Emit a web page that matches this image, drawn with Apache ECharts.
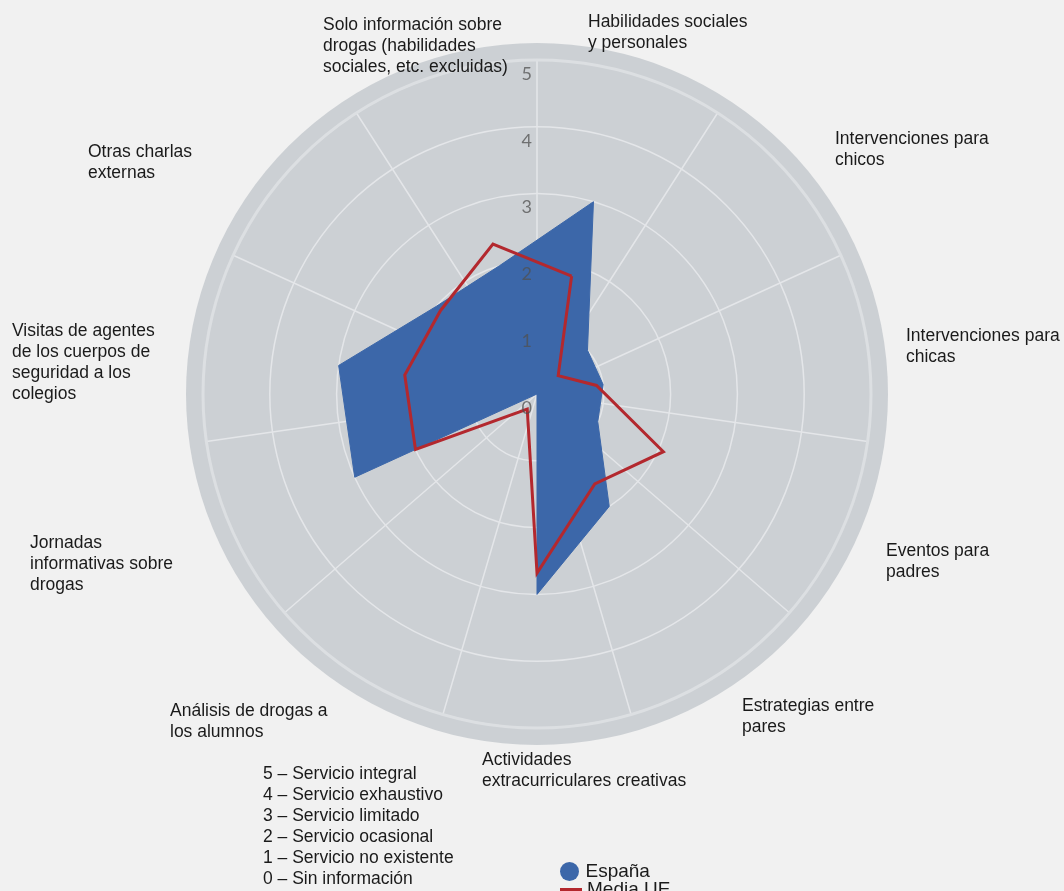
<!DOCTYPE html>
<html>
<head>
<meta charset="utf-8">
<script src="https://cdn.jsdelivr.net/npm/echarts@6/dist/echarts.min.js"></script>
<style>
html,body{margin:0;padding:0;background:#f1f1f1;}
#chart{width:1064px;height:891px;}
</style>
</head>
<body>
<div id="chart"></div>
<script>
// ---- data (clockwise from the top) ----
const categories = [
  'Habilidades sociales\ny personales',
  'Intervenciones para\nchicos',
  'Intervenciones para\nchicas',
  'Eventos para\npadres',
  'Estrategias entre\npares',
  'Actividades\nextracurriculares creativas',
  'Análisis de drogas a\nlos alumnos',
  'Jornadas\ninformativas sobre\ndrogas',
  'Visitas de agentes\nde los cuerpos de\nseguridad a los\ncolegios',
  'Otras charlas\nexternas',
  'Solo información sobre\ndrogas (habilidades\nsociales, etc. excluidas)'
];
const espana  = [3, 1, 1, 1, 2, 3, 0, 3, 3, 2, 2];
const mediaUE = [1.84, 0.42, 0.9, 2.08, 1.6, 2.68, 0.27, 2.0, 2.0, 1.91, 2.34];
const radiusTicks = [0, 1, 2, 3, 4, 5];
const seriesNames = ['España', 'Media UE'];
const scaleLines = [
  '5 – Servicio integral',
  '4 – Servicio exhaustivo',
  '3 – Servicio limitado',
  '2 – Servicio ocasional',
  '1 – Servicio no existente',
  '0 – Sin información'
];

// ---- layout ----
const CX = 537, CY = 394, R = 334, RDISC = 351;
const labelLayout = [[588,12],[835,129],[906,326],[886,541],[742,696],[482,750],[170,701],[30,533],[12,321],[88,142],[323,15]];
const FONT = '"Liberation Sans", Arial, Helvetica, sans-serif';
const BLUE = '#3c67a9', RED = '#b3282e', DISC = '#ccd0d4', GRIDC = '#e4e6e9';
const legendIcons = ['circle', 'path://M0,0h0.05v0.05h-0.05z M0,8h22v3h-22z M21.95,18.95h0.05v0.05h-0.05z'];
const legendTops = [862, 880];

// radar indicators run counter-clockwise -> reorder
const order = [0].concat(categories.map((_, i) => i).slice(1).reverse());
const maxV = radiusTicks[radiusTicks.length - 1];

const chart = echarts.init(document.getElementById('chart'), null, {renderer: 'canvas'});
chart.setOption({
  backgroundColor: '#f1f1f1',
  animation: false,
  title: {
    text: scaleLines.join('\n'),
    left: 263, top: 764, padding: 0,
    textStyle: {fontFamily: FONT, fontSize: 17.5, fontWeight: 'normal', lineHeight: 21, color: '#1a1a1a'}
  },
  legend: seriesNames.map((n, i) => ({
    orient: 'vertical', left: 560, top: legendTops[i], padding: 0, selectedMode: false,
    itemWidth: 22, itemHeight: 19, itemGap: 2,
    textStyle: {fontFamily: FONT, fontSize: 19, color: '#1a1a1a'},
    data: [{name: n, icon: legendIcons[i]}]
  })),
  polar: [
    {center: [CX, CY], radius: RDISC},
    {center: [CX, CY], radius: R},
    {center: [CX, CY], radius: R}
  ],
  angleAxis: [
    {polarIndex: 0, show: false},
    {polarIndex: 1, type: 'category', data: categories, boundaryGap: true, startAngle: 90, clockwise: true,
     axisLine: {show: true, lineStyle: {color: '#dcdfe2', width: 3}},
     axisTick: {show: false}, axisLabel: {show: false},
     splitLine: {show: true, lineStyle: {color: GRIDC, width: 1.5}}},
    {polarIndex: 2, show: false}
  ],
  radiusAxis: [
    {polarIndex: 0, min: 0, max: 1, interval: 1,
     axisLine: {show: false}, axisTick: {show: false}, axisLabel: {show: false},
     splitLine: {show: false}, splitArea: {show: true, areaStyle: {color: [DISC]}}},
    {polarIndex: 1, min: 0, max: maxV, interval: 1,
     axisLine: {show: false}, axisTick: {show: false}, axisLabel: {show: false},
     splitLine: {show: true, lineStyle: {color: GRIDC, width: 1.5}}},
    {polarIndex: 2, min: 0, max: maxV, interval: 1, z: 10,
     axisLine: {show: false}, axisTick: {show: false}, splitLine: {show: false},
     axisLabel: {show: true, margin: 5, verticalAlign: 'top', padding: [5, 0, 0, 0],
       fontFamily: 'Lato', fontSize: 18, color: 'rgba(80,80,80,0.75)',
       formatter: v => radiusTicks.indexOf(v) >= 0 ? String(v) : ''}}
  ],
  radar: {
    center: [CX, CY], radius: R, startAngle: 90 - 180 / categories.length, shape: 'circle',
    indicator: order.map(i => ({name: categories[i], min: 0, max: maxV})),
    axisName: {show: false}, axisLine: {show: false}, splitLine: {show: false},
    splitArea: {show: false}, axisTick: {show: false}, axisLabel: {show: false}
  },
  series: [
    {type: 'radar', name: seriesNames[0], symbol: 'none', z: 3,
     itemStyle: {color: BLUE}, lineStyle: {width: 1, color: BLUE},
     areaStyle: {color: BLUE, opacity: 1},
     data: [{name: seriesNames[0], value: order.map(i => espana[i])}]},
    {type: 'radar', name: seriesNames[1], symbol: 'none', z: 4,
     itemStyle: {color: RED}, lineStyle: {width: 3, color: RED, join: 'miter'},
     data: [{name: seriesNames[1], value: order.map(i => mediaUE[i])}]}
  ],
  graphic: categories.map((name, i) => ({
    type: 'text', left: labelLayout[i][0], top: labelLayout[i][1], z: 20,
    style: {text: name, fill: '#1a1a1a', fontFamily: FONT, fontSize: 17.5, lineHeight: 21}
  }))
});
</script>
</body>
</html>
